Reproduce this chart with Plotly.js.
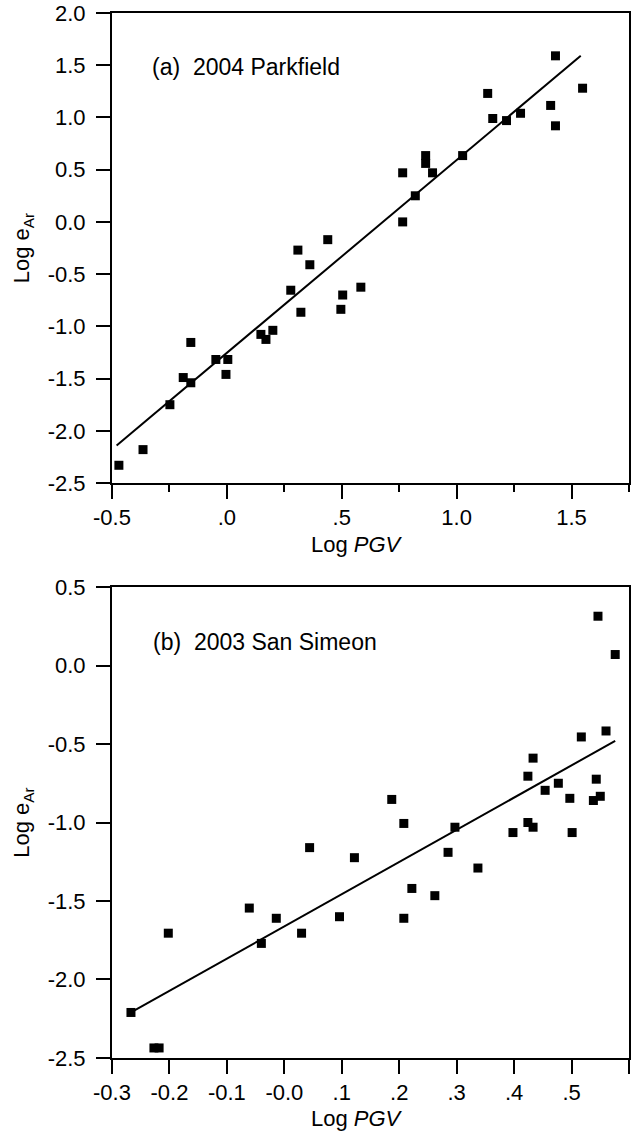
<!DOCTYPE html>
<html>
<head>
<meta charset="utf-8">
<script src="https://cdn.plot.ly/plotly-3.0.1.min.js"></script>
<style>
  html, body { margin: 0; padding: 0; background: #fff; }
  #chart { width: 636px; height: 1138px; }
</style>
</head>
<body>
<div id="chart"></div>
<script>
// Panel (a) 2004 Parkfield
const parkfieldLogPGV = [1.43, 1.548, 1.135, 1.157, 1.217, 1.278, 1.409, 1.43, 1.026, 0.865, 0.865, 0.895, 0.765, 0.82, 0.765,
  0.439, 0.309, 0.361, 0.278, 0.322, 0.496, 0.504, 0.583, 0.148, 0.17, 0.2, -0.157, -0.19, -0.157, -0.048, 0.004, -0.004, -0.248, -0.365, -0.47];
const parkfieldLogEAr = [1.59, 1.28, 1.23, 0.99, 0.97, 1.04, 1.115, 0.92, 0.635, 0.635, 0.56, 0.47, 0.47, 0.25, 0.0,
  -0.17, -0.27, -0.41, -0.654, -0.865, -0.837, -0.70, -0.625, -1.077, -1.125, -1.038, -1.154, -1.49, -1.54, -1.317, -1.317, -1.46, -1.75, -2.18, -2.33];
const parkfieldFitX = [-0.48, 1.54];
const parkfieldFitY = [-2.14, 1.59];

// Panel (b) 2003 San Simeon
const simeonLogPGV = [0.546, 0.576, 0.517, 0.56, 0.433, 0.424, 0.477, 0.543, 0.454, 0.497, 0.55, 0.538, 0.187, 0.208, 0.424,
  0.433, 0.398, 0.501, 0.297, 0.044, 0.122, 0.285, 0.337, 0.222, 0.262, 0.208, 0.096, 0.030, -0.014, -0.04, -0.061, -0.202, -0.267, -0.227, -0.218];
const simeonLogEAr = [0.314, 0.07, -0.455, -0.417, -0.59, -0.705, -0.75, -0.724, -0.795, -0.846, -0.833, -0.86, -0.853, -1.006, -1.0,
  -1.03, -1.064, -1.064, -1.03, -1.16, -1.224, -1.19, -1.29, -1.42, -1.466, -1.61, -1.6, -1.705, -1.61, -1.77, -1.545, -1.705, -2.21, -2.436, -2.436];
const simeonFitX = [-0.267, 0.576];
const simeonFitY = [-2.21, -0.48];

// Tick labels
const xTickValsA = [-0.5, 0, 0.5, 1.0, 1.5];
const xTickTextA = ["-0.5", ".0", ".5", "1.0", "1.5"];
const yTickValsA = [-2.5, -2.0, -1.5, -1.0, -0.5, 0, 0.5, 1.0, 1.5, 2.0];
const yTickTextA = ["-2.5", "-2.0", "-1.5", "-1.0", "-0.5", "0.0", "0.5", "1.0", "1.5", "2.0"];
const xTickValsB = [-0.3, -0.2, -0.1, 0, 0.1, 0.2, 0.3, 0.4, 0.5, 0.6];
const xTickTextB = ["-0.3", "-0.2", "-0.1", "-0.0", ".1", ".2", ".3", ".4", ".5", ".6"];
const yTickValsB = [-2.5, -2.0, -1.5, -1.0, -0.5, 0, 0.5];
const yTickTextB = ["-2.5", "-2.0", "-1.5", "-1.0", "-0.5", "0.0", "0.5"];

const FONT = '"Liberation Sans", Arial, Helvetica, sans-serif';
const marker = { symbol: 'square', size: 9, color: '#000' };
const fitLine = { color: '#000', width: 2 };

const traces = [
  { x: parkfieldLogPGV, y: parkfieldLogEAr, type: 'scatter', mode: 'markers', marker: marker, xaxis: 'x', yaxis: 'y' },
  { x: parkfieldFitX, y: parkfieldFitY, type: 'scatter', mode: 'lines', line: fitLine, xaxis: 'x', yaxis: 'y' },
  { x: simeonLogPGV, y: simeonLogEAr, type: 'scatter', mode: 'markers', marker: marker, xaxis: 'x2', yaxis: 'y2' },
  { x: simeonFitX, y: simeonFitY, type: 'scatter', mode: 'lines', line: fitLine, xaxis: 'x2', yaxis: 'y2' }
];

const axisCommon = {
  showgrid: false, zeroline: false, showline: true, linecolor: '#000', linewidth: 2,
  mirror: true, ticks: 'outside', ticklen: 14, tickwidth: 2, tickcolor: '#000',
  tickfont: { family: FONT, size: 22, color: '#000' }, fixedrange: true
};
const titleFont = { family: FONT, size: 22, color: '#000' };

const layout = {
  width: 636, height: 1138,
  margin: { l: 112, r: 7, t: 13, b: 80 },
  paper_bgcolor: '#fff', plot_bgcolor: '#fff',
  showlegend: false,
  font: { family: FONT, color: '#000' },
  xaxis: Object.assign({}, axisCommon, {
    domain: [0, 1], anchor: 'y', range: [-0.5, 1.75],
    tickmode: 'array', tickvals: xTickValsA, ticktext: xTickTextA,
    minor: { dtick: 0.25, tick0: -0.5, ticks: 'outside', ticklen: 7, tickwidth: 2, tickcolor: '#000', showgrid: false }
  }),
  yaxis: Object.assign({}, axisCommon, {
    domain: [0.5502, 1], anchor: 'x', range: [-2.5, 2.0],
    tickmode: 'array', tickvals: yTickValsA, ticktext: yTickTextA, ticklabelstandoff: 6,
    title: { text: 'Log e<sub>Ar</sub>', font: titleFont, standoff: 12 }
  }),
  xaxis2: Object.assign({}, axisCommon, {
    domain: [0, 1], anchor: 'y2', range: [-0.3, 0.6],
    tickmode: 'array', tickvals: xTickValsB, ticktext: xTickTextB
  }),
  yaxis2: Object.assign({}, axisCommon, {
    domain: [0, 0.4507], anchor: 'x2', range: [-2.5, 0.5],
    tickmode: 'array', tickvals: yTickValsB, ticktext: yTickTextB, ticklabelstandoff: 6,
    title: { text: 'Log e<sub>Ar</sub>', font: titleFont, standoff: 12 }
  }),
  annotations: [
    { text: '(a)&nbsp; 2004 Parkfield', xref: 'x domain', yref: 'y domain', x: 0.074, y: 0.885,
      xanchor: 'left', yanchor: 'middle', showarrow: false, font: { family: FONT, size: 23, color: '#000' } },
    { text: '(b)&nbsp; 2003 San Simeon', xref: 'x2 domain', yref: 'y2 domain', x: 0.076, y: 0.883,
      xanchor: 'left', yanchor: 'middle', showarrow: false, font: { family: FONT, size: 23, color: '#000' } },
    { text: 'Log <i>PGV</i>', xref: 'paper', yref: 'paper', x: 0.474, y: 0.4915,
      xanchor: 'center', yanchor: 'middle', showarrow: false, font: titleFont },
    { text: 'Log <i>PGV</i>', xref: 'paper', yref: 'paper', x: 0.474, y: -0.0575,
      xanchor: 'center', yanchor: 'middle', showarrow: false, font: titleFont }
  ]
};

Plotly.newPlot('chart', traces, layout, { staticPlot: true, displayModeBar: false });
</script>
</body>
</html>
